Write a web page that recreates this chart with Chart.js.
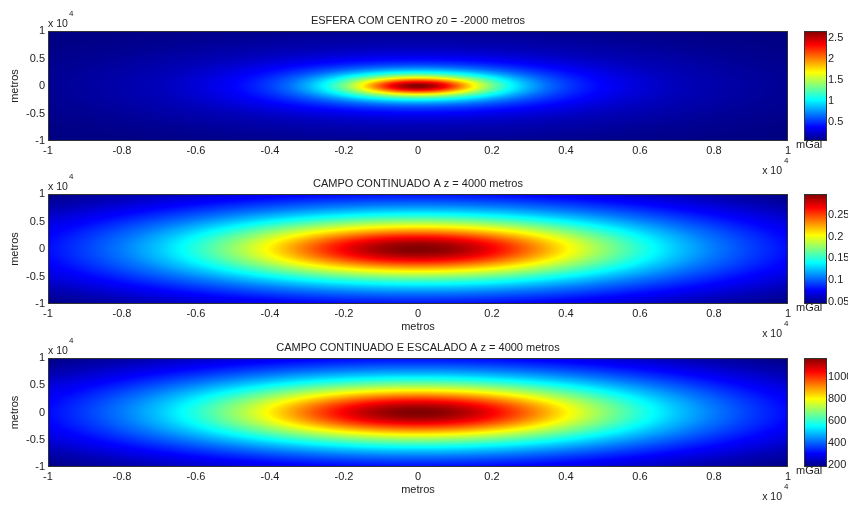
<!DOCTYPE html>
<html>
<head>
<meta charset="utf-8">
<title>Campo gravimétrico da esfera</title>
<script src="https://cdn.jsdelivr.net/npm/chart.js@4/dist/chart.umd.min.js"></script>
<style>
  body { margin: 0; background: #fff; }
  #wrap { position: relative; width: 848px; height: 506px; overflow: hidden; }
  .panel { position: absolute; left: 0; width: 848px; }
</style>
</head>
<body>
<div id="wrap">
  <div class="panel" style="top:0px;height:180px"><canvas id="chart1"></canvas></div>
  <div class="panel" style="top:164px;height:180px"><canvas id="chart2"></canvas></div>
  <div class="panel" style="top:326px;height:180px"><canvas id="chart3"></canvas></div>
</div>
<script>
// radial distance from the sphere's axis (m) and the field at that distance
const radii = [0, 250, 500, 750, 1000, 1250, 1500, 1750, 2000, 2500, 3000, 3500, 4000, 4500, 5000, 6000, 7000, 8000, 9000, 10000, 12000, 14200];
const sphereField = [2.66, 2.62, 2.50, 2.33, 2.13, 1.91, 1.70, 1.51, 1.33, 1.04, 0.82, 0.65, 0.53, 0.44, 0.37, 0.27, 0.20, 0.16, 0.13, 0.10, 0.07, 0.05];
const continuedField = [0.298, 0.297, 0.296, 0.293, 0.290, 0.286, 0.280, 0.275, 0.268, 0.254, 0.238, 0.222, 0.206, 0.191, 0.176, 0.149, 0.126, 0.107, 0.092, 0.079, 0.060, 0.045];
const scaledField = [1169, 1166, 1161, 1151, 1137, 1120, 1100, 1077, 1052, 996, 935, 872, 809, 748, 690, 585, 495, 421, 360, 309, 234, 180];

const xTicks = [-10000, -8000, -6000, -4000, -2000, 0, 2000, 4000, 6000, 8000, 10000];
const yTicks = [-10000, -5000, 0, 5000, 10000];
const sphereBarTicks = [0.5, 1, 1.5, 2, 2.5];
const continuedBarTicks = [0.05, 0.1, 0.15, 0.2, 0.25];
const scaledBarTicks = [200, 400, 600, 800, 1000];

const fontFamily = "'Liberation Sans', Arial, sans-serif";
const textColor = "#222";

Chart.defaults.font.family = fontFamily;
Chart.defaults.font.size = 11;
Chart.defaults.color = textColor;

function jet(t) {
  t = Math.min(1, Math.max(0, t));
  const ch = (c) => Math.round(255 * Math.min(1, Math.max(0, 1.5 - Math.abs(4 * t - c))));
  return [ch(3), ch(2), ch(1)];
}

// linear shading between neighbouring profile samples
function fieldAt(field, r) {
  if (r >= radii[radii.length - 1]) return field[field.length - 1];
  let k = 1;
  while (radii[k] < r) k++;
  const f = (r - radii[k - 1]) / (radii[k] - radii[k - 1]);
  return field[k - 1] + f * (field[k] - field[k - 1]);
}

function heatmapPlugin(field, title, showXLabel) {
  return {
    id: "heatmap",
    beforeDatasetsDraw(chart) {
      const ctx = chart.ctx;
      const area = chart.chartArea;
      const xs = chart.scales.x;
      const ys = chart.scales.y;
      const cb = chart.scales.cb;
      const w = Math.round(area.right - area.left);
      const h = Math.round(area.bottom - area.top);
      const lo = cb.min;
      const hi = cb.max;

      const off = document.createElement("canvas");
      off.width = w;
      off.height = h;
      const octx = off.getContext("2d");
      const img = octx.createImageData(w, h);
      for (let j = 0; j < h; j++) {
        const y = ys.getValueForPixel(area.top + j + 0.5);
        for (let i = 0; i < w; i++) {
          const x = xs.getValueForPixel(area.left + i + 0.5);
          const v = fieldAt(field, Math.hypot(x, y));
          const c = jet((v - lo) / (hi - lo));
          const p = (j * w + i) * 4;
          img.data[p] = c[0];
          img.data[p + 1] = c[1];
          img.data[p + 2] = c[2];
          img.data[p + 3] = 255;
        }
      }
      octx.putImageData(img, 0, 0);
      ctx.drawImage(off, area.left, area.top, w, h);

      // colour bar beside the map
      const barLeft = area.right + 16;
      const barWidth = 23;
      for (let py = Math.round(cb.top); py < Math.round(cb.bottom); py++) {
        const v = cb.getValueForPixel(py + 0.5);
        const c = jet((v - lo) / (hi - lo));
        ctx.fillStyle = "rgb(" + c[0] + "," + c[1] + "," + c[2] + ")";
        ctx.fillRect(barLeft, py, barWidth, 1);
      }
      ctx.strokeStyle = "#333";
      ctx.lineWidth = 1;
      ctx.strokeRect(barLeft + 0.5, Math.round(cb.top) + 0.5, barWidth - 1, Math.round(cb.bottom - cb.top) - 1);
      ctx.strokeRect(area.left + 0.5, area.top + 0.5, w - 1, h - 1);
    },
    afterDraw(chart) {
      const ctx = chart.ctx;
      const area = chart.chartArea;
      const cx = (area.left + area.right) / 2;
      ctx.save();
      ctx.fillStyle = textColor;
      ctx.textBaseline = "middle";
      ctx.font = "11px " + fontFamily;
      ctx.textAlign = "center";
      ctx.fillText(title, cx, area.top - 10);
      if (showXLabel) ctx.fillText("metros", cx, area.bottom + 23);

      ctx.save();
      ctx.translate(15, (area.top + area.bottom) / 2);
      ctx.rotate(-Math.PI / 2);
      ctx.fillText("metros", 0, 0);
      ctx.restore();

      ctx.textAlign = "left";
      ctx.fillText("mGal", area.right + 8, area.bottom + 4);

      // axis multipliers
      ctx.font = "10.5px " + fontFamily;
      ctx.fillText("x 10", area.left, area.top - 7);
      ctx.textAlign = "right";
      ctx.fillText("x 10", area.right - 6, area.bottom + 30);
      ctx.font = "8px " + fontFamily;
      ctx.textAlign = "left";
      ctx.fillText("4", area.left + 21, area.top - 17);
      ctx.fillText("4", area.right - 4, area.bottom + 20);
      ctx.restore();
    },
  };
}

function makePanel(id, field, barTicks, title, showXLabel, padTop, axisHeight) {
  const setTicks = (list) => (scale) => {
    scale.ticks = list.map((v) => ({ value: v }));
  };
  new Chart(document.getElementById(id), {
    type: "scatter",
    data: { datasets: [{ data: [] }] },
    options: {
      responsive: true,
      maintainAspectRatio: false,
      animation: false,
      events: [],
      layout: { padding: { top: padTop, right: 0, bottom: 0, left: 0 } },
      plugins: { legend: { display: false }, tooltip: { enabled: false } },
      scales: {
        x: {
          type: "linear",
          min: -10000,
          max: 10000,
          afterBuildTicks: setTicks(xTicks),
          afterFit: (s) => { s.height = axisHeight; },
          grid: { display: false, drawTicks: false },
          border: { display: false },
          ticks: { padding: 3, maxRotation: 0, autoSkip: false, callback: (v) => String(v / 10000) },
        },
        y: {
          type: "linear",
          min: -10000,
          max: 10000,
          afterBuildTicks: setTicks(yTicks),
          afterFit: (s) => { s.width = 48; },
          grid: { display: false, drawTicks: false },
          border: { display: false },
          ticks: { padding: 3, autoSkip: false, callback: (v) => String(v / 10000) },
        },
        cb: {
          type: "linear",
          position: "right",
          min: Math.min(...field),
          max: Math.max(...field),
          afterBuildTicks: setTicks(barTicks),
          // labels sit right of the colour bar; keep the wide gap out of the layout padding
          afterFit: (s) => { s.width = 60; s.paddingTop = 7; s.paddingBottom = 7; },
          grid: { display: false, drawTicks: false },
          border: { display: false },
          ticks: { padding: 40, autoSkip: false, callback: (v) => String(v) },
        },
      },
    },
    plugins: [heatmapPlugin(field, title, showXLabel)],
  });
}

makePanel("chart1", sphereField, sphereBarTicks, "ESFERA COM CENTRO z0 = -2000 metros", false, 31, 39);
makePanel("chart2", continuedField, continuedBarTicks, "CAMPO CONTINUADO A z = 4000 metros", true, 30, 40);
makePanel("chart3", scaledField, scaledBarTicks, "CAMPO CONTINUADO E ESCALADO A z = 4000 metros", true, 32, 39);
</script>
</body>
</html>
